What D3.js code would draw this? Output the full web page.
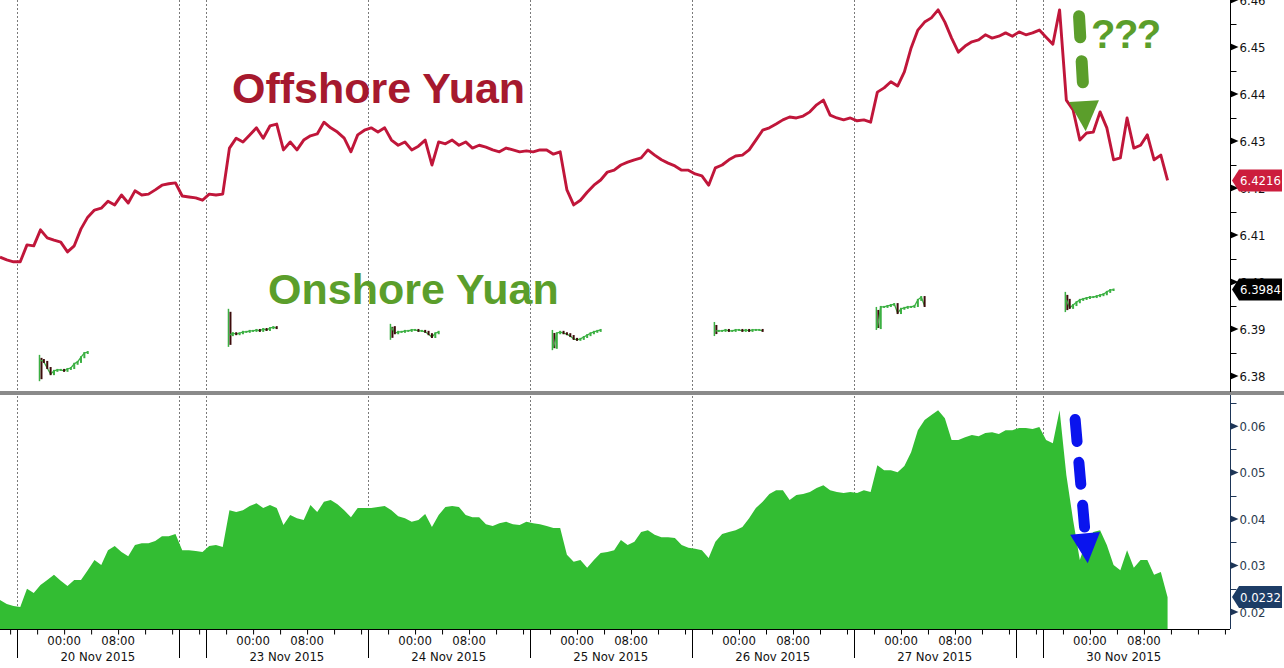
<!DOCTYPE html>
<html>
<head>
<meta charset="utf-8">
<script src="https://cdn.jsdelivr.net/npm/d3@7"></script>
<style>
  body { margin: 0; background: #fff; }
  .chart text { font-family: 'DejaVu Sans Condensed', 'DejaVu Sans', sans-serif; font-stretch: condensed; }
  .chart .big { font-family: 'Liberation Sans', Arial, sans-serif; font-weight: bold; font-stretch: normal; }
</style>
</head>
<body>
<div class="chart"></div>
<script>
// times are New York (EST); weekend hours are collapsed on the x axis
const visibleSpans = [
  ['2015-11-19T14:30', '2015-11-20T17:00'],
  ['2015-11-22T13:00', '2015-11-27T17:00'],
  ['2015-11-29T13:00', '2015-11-30T20:45']
]
// trading days start 17:00 the evening before
const dayOpens = ['2015-11-19T17:00', '2015-11-22T17:00', '2015-11-23T17:00', '2015-11-24T17:00',
  '2015-11-25T17:00', '2015-11-26T17:00', '2015-11-29T17:00']
const dayLabels = ['20 Nov 2015', '23 Nov 2015', '24 Nov 2015', '25 Nov 2015',
  '26 Nov 2015', '27 Nov 2015', '30 Nov 2015']

// hourly series, first sample of each stretch
const seriesStarts = ['2015-11-19T14:30', '2015-11-22T13:30', '2015-11-29T13:30']

// offshore yuan (CNH)
const offshoreFri = [6.4053, 6.4047, 6.4043, 6.4043, 6.4079, 6.4077, 6.4111, 6.4094, 6.4089, 6.4085,
  6.4064, 6.4077, 6.4113, 6.4138, 6.4153, 6.4157, 6.4172, 6.4164, 6.4185, 6.4168, 6.4194, 6.4185,
  6.4187, 6.4196, 6.4206, 6.4209, 6.4211]
const offshoreWeek = [6.4183, 6.4181, 6.4179, 6.4174, 6.4187, 6.4185, 6.4187, 6.4285, 6.4306, 6.4298,
  6.4313, 6.4328, 6.4306, 6.4332, 6.4336, 6.4281, 6.4298, 6.4281, 6.4302, 6.4311, 6.4315, 6.4340,
  6.4328, 6.4319, 6.4306, 6.4277, 6.4313, 6.4323, 6.4328, 6.4319, 6.4328, 6.4302, 6.4291, 6.4298,
  6.4281, 6.4289, 6.4302, 6.4249, 6.4298, 6.4294, 6.4302, 6.4291, 6.4298, 6.4285, 6.4291, 6.4287,
  6.4281, 6.4277, 6.4285, 6.4281, 6.4277, 6.4279, 6.4277, 6.4281, 6.4281, 6.4272, 6.4277, 6.4196,
  6.4164, 6.4174, 6.4191, 6.4206, 6.4217, 6.4234, 6.4238, 6.4249, 6.4255, 6.4260, 6.4264, 6.4281,
  6.4270, 6.4260, 6.4253, 6.4247, 6.4238, 6.4238, 6.4230, 6.4226, 6.4206, 6.4243, 6.4249, 6.4260,
  6.4268, 6.4270, 6.4281, 6.4302, 6.4323, 6.4328, 6.4336, 6.4345, 6.4351, 6.4349, 6.4353, 6.4362,
  6.4377, 6.4387, 6.4355, 6.4349, 6.4345, 6.4349, 6.4343, 6.4345, 6.4340, 6.4404, 6.4413, 6.4426,
  6.4417, 6.4447, 6.4498, 6.4536, 6.4553, 6.4562, 6.4579, 6.4553, 6.4519, 6.4489, 6.4502, 6.4511,
  6.4515, 6.4526, 6.4519, 6.4523, 6.4530, 6.4523]
const offshoreMon = [6.4532, 6.4526, 6.4530, 6.4536, 6.4521, 6.4506, 6.4579, 6.4387, 6.4366, 6.4302,
  6.4317, 6.4319, 6.4362, 6.4328, 6.4260, 6.4264, 6.4349, 6.4285, 6.4291, 6.4313, 6.4260, 6.4270,
  6.4216]

// offshore minus onshore spread
const spreadFri = [0.0226, 0.0217, 0.0213, 0.0211, 0.0250, 0.0241, 0.0258, 0.0269, 0.0280, 0.0267,
  0.0256, 0.0269, 0.0269, 0.0290, 0.0312, 0.0301, 0.0333, 0.0342, 0.0329, 0.0320, 0.0344, 0.0348,
  0.0348, 0.0353, 0.0363, 0.0363, 0.0368]
const spreadWeek = [0.0333, 0.0333, 0.0331, 0.0329, 0.0342, 0.0344, 0.0340, 0.0419, 0.0415, 0.0419,
  0.0428, 0.0434, 0.0424, 0.0430, 0.0424, 0.0387, 0.0409, 0.0402, 0.0398, 0.0430, 0.0415, 0.0437,
  0.0441, 0.0432, 0.0419, 0.0404, 0.0424, 0.0424, 0.0424, 0.0426, 0.0428, 0.0419, 0.0406, 0.0402,
  0.0394, 0.0398, 0.0411, 0.0383, 0.0409, 0.0426, 0.0428, 0.0426, 0.0409, 0.0404, 0.0404, 0.0389,
  0.0385, 0.0391, 0.0394, 0.0389, 0.0387, 0.0394, 0.0391, 0.0389, 0.0385, 0.0381, 0.0381, 0.0323,
  0.0308, 0.0312, 0.0295, 0.0312, 0.0327, 0.0329, 0.0333, 0.0355, 0.0344, 0.0351, 0.0372, 0.0376,
  0.0366, 0.0361, 0.0361, 0.0359, 0.0344, 0.0338, 0.0336, 0.0333, 0.0316, 0.0351, 0.0368, 0.0372,
  0.0376, 0.0383, 0.0402, 0.0424, 0.0437, 0.0454, 0.0462, 0.0462, 0.0441, 0.0452, 0.0454, 0.0458,
  0.0467, 0.0473, 0.0462, 0.0458, 0.0456, 0.0458, 0.0456, 0.0462, 0.0458, 0.0516, 0.0505, 0.0505,
  0.0501, 0.0514, 0.0544, 0.0591, 0.0613, 0.0624, 0.0634, 0.0617, 0.0570, 0.0570, 0.0576, 0.0581,
  0.0578, 0.0585, 0.0587, 0.0583, 0.0591, 0.0591]
const spreadMon = [0.0596, 0.0596, 0.0594, 0.0598, 0.0570, 0.0563, 0.0634, 0.0495, 0.0398, 0.0312,
  0.0355, 0.0372, 0.0376, 0.0344, 0.0301, 0.0290, 0.0333, 0.0295, 0.0312, 0.0312, 0.0280, 0.0286,
  0.0232]

// onshore yuan (CNY), half-hourly during the mainland session
const onshoreOpens = ['2015-11-19T20:30', '2015-11-22T20:30', '2015-11-23T20:30', '2015-11-24T20:30',
  '2015-11-25T20:30', '2015-11-26T20:30', '2015-11-29T20:30']
const onshore20 = [6.3834, 6.3830, 6.3817, 6.3804, 6.3811, 6.3813, 6.3813, 6.3811, 6.3815, 6.3817, 6.3826, 6.3830, 6.3840, 6.3849, 6.3851]
const onshore23 = [6.3887, 6.3891, 6.3889, 6.3891, 6.3894, 6.3894, 6.3896, 6.3896, 6.3898, 6.3896, 6.3900, 6.3898, 6.3902, 6.3904, 6.3902]
const onshore24 = [6.3904, 6.3891, 6.3894, 6.3894, 6.3896, 6.3896, 6.3898, 6.3898, 6.3896, 6.3896, 6.3894, 6.3889, 6.3883, 6.3891, 6.3894]
const onshore25 = [6.3860, 6.3891, 6.3894, 6.3891, 6.3889, 6.3885, 6.3879, 6.3877, 6.3879, 6.3883, 6.3887, 6.3891, 6.3894, 6.3896, 6.3898]
const onshore26 = [6.3896, 6.3896, 6.3896, 6.3898, 6.3896, 6.3896, 6.3898, 6.3898, 6.3896, 6.3898, 6.3896, 6.3898, 6.3898, 6.3898, 6.3896]
const onshore27 = [6.3902, 6.3947, 6.3947, 6.3949, 6.3951, 6.3953, 6.3934, 6.3943, 6.3945, 6.3947, 6.3947, 6.3949, 6.3962, 6.3968, 6.3949]
const onshore30 = [6.3962, 6.3945, 6.3951, 6.3957, 6.3962, 6.3964, 6.3966, 6.3968, 6.3968, 6.3970, 6.3972, 6.3974, 6.3979, 6.3983, 6.3984]
// high / low of the opening bar of each session
const onshoreOpenBar = [[6.3845, 6.3789], [6.3943, 6.3862], [6.3911, 6.3877], [6.3898, 6.3855],
  [6.3915, 6.3885], [6.3947, 6.3898], [6.3979, 6.3936]]

const topTicks = [6.38, 6.39, 6.40, 6.41, 6.42, 6.43, 6.44, 6.45, 6.46]
const bottomTicks = [0.02, 0.03, 0.04, 0.05, 0.06]

const parse = d3.timeParse('%Y-%m-%dT%H:%M')
const width = 1284
const height = 668
const plotRight = 1230
const topPanel = {y0: 0, y1: 392}
const botPanel = {y0: 395, y1: 629}

const svg = d3
  .select('.chart')
  .append('svg')
  .attr('width', width)
  .attr('height', height)

//x scale: piecewise time scale, hidden weekend stretches get zero width
const spans = visibleSpans.map(s => s.map(parse))
const spanHours = spans.map(s => (s[1] - s[0]) / 36e5)
const pxPerHour = plotRight / d3.sum(spanHours)
const xDomain = []
const xRange = []
let acc = 0
spans.forEach((s, i) => {
  xDomain.push(s[0], s[1])
  xRange.push(acc * pxPerHour, (acc + spanHours[i]) * pxPerHour)
  acc += spanHours[i]
})
const x = d3.scaleTime().domain(xDomain).range(xRange)

const yTop = d3.scaleLinear().domain([6.3766, 6.46]).range([topPanel.y1, topPanel.y0])
const yBot = d3.scaleLinear().domain([0.01634, 0.0667]).range([botPanel.y1, botPanel.y0])

const toSeries = parts =>
  parts.flatMap((arr, i) =>
    arr.map((v, j) => ({t: d3.timeHour.offset(parse(seriesStarts[i]), j), v}))
  )
const offshore = toSeries([offshoreFri, offshoreWeek, offshoreMon])
const spread = toSeries([spreadFri, spreadWeek, spreadMon])

//day separators
const opens = dayOpens.map(parse)
const sepTimes = Array.from(
  new Set(opens.flatMap((t, i) => (i < opens.length - 1 ? [+t, +d3.timeHour.offset(t, 24)] : [+t])))
).map(t => new Date(t))

svg
  .append('g')
  .selectAll('line')
  .data(sepTimes)
  .join('line')
  .attr('x1', d => Math.round(x(d)) + 0.5)
  .attr('x2', d => Math.round(x(d)) + 0.5)
  .attr('y1', 0)
  .attr('y2', botPanel.y1)
  .style('stroke', '#7a7a7a')
  .style('stroke-dasharray', '2,2')

//spread area
const area = d3
  .area()
  .x(d => x(d.t))
  .y0(botPanel.y1)
  .y1(d => yBot(d.v))
svg
  .append('path')
  .datum(spread)
  .attr('d', area)
  .style('fill', '#33bd33')

//offshore line
const line = d3
  .line()
  .x(d => x(d.t))
  .y(d => yTop(d.v))
svg
  .append('path')
  .datum(offshore)
  .attr('d', line)
  .style('fill', 'none')
  .style('stroke', '#c0163a')
  .style('stroke-width', 2.9)
  .style('stroke-linejoin', 'round')

//onshore sessions, drawn as small candles
const onshoreDays = [onshore20, onshore23, onshore24, onshore25, onshore26, onshore27, onshore30]
onshoreDays.forEach((vals, i) => {
  const t0 = parse(onshoreOpens[i])
  const pts = vals.map((v, j) => ({t: d3.timeMinute.offset(t0, 30 * j), v}))
  const g = svg.append('g')
  g.append('line')
    .attr('x1', x(t0) - 1)
    .attr('x2', x(t0) - 1)
    .attr('y1', yTop(onshoreOpenBar[i][0]))
    .attr('y2', yTop(onshoreOpenBar[i][1]))
    .style('stroke', '#3cb043')
    .style('stroke-width', 1.5)
  g.append('line')
    .attr('x1', x(t0) + 1)
    .attr('x2', x(t0) + 1)
    .attr('y1', yTop(onshoreOpenBar[i][0]) + 3)
    .attr('y2', yTop(onshoreOpenBar[i][1]) - 2)
    .style('stroke', '#3d0c0c')
    .style('stroke-width', 2)
  g.append('path')
    .datum(pts)
    .attr('d', line)
    .style('fill', 'none')
    .style('stroke', '#3cb043')
    .style('stroke-width', 1.3)
  g.selectAll('rect')
    .data(pts.slice(1).map((p, j) => ({t: p.t, v: p.v, prev: pts[j].v})))
    .join('rect')
    .attr('x', d => x(d.t) - 1)
    .attr('width', 2)
    .attr('y', d => yTop(Math.max(d.v, d.prev)) - 1)
    .attr('height', d => Math.abs(yTop(d.v) - yTop(d.prev)) + 2)
    .style('fill', d => (d.v < d.prev ? '#3d0c0c' : '#3cb043'))
})

//panel divider
svg
  .append('line')
  .attr('x1', 0)
  .attr('x2', width)
  .attr('y1', 393)
  .attr('y2', 393)
  .style('stroke', '#8a8a8a')
  .style('stroke-width', 4)

//right axes
function rightAxis(scale, ticks, panel, color, fmt) {
  const minor = ticks.map(t => t + (ticks[1] - ticks[0]) / 2)
  const g = svg.append('g').attr('transform', 'translate(' + (plotRight + 0.5) + ',0)')
  g.append('line')
    .attr('y1', panel.y0)
    .attr('y2', panel.y1)
    .style('stroke', color)
  g.selectAll('.minor')
    .data(minor.filter(v => scale(v) > panel.y0 && scale(v) < panel.y1))
    .join('line')
    .attr('class', 'minor')
    .attr('x2', 6)
    .attr('y1', d => Math.round(scale(d)) + 0.5)
    .attr('y2', d => Math.round(scale(d)) + 0.5)
    .style('stroke', color)
  g.selectAll('.major')
    .data(ticks)
    .join('path')
    .attr('class', 'major')
    .attr('d', d => 'M0,' + (scale(d) - 3.5) + 'L8,' + scale(d) + 'L0,' + (scale(d) + 3.5) + 'Z')
    .style('fill', color)
  g.selectAll('text')
    .data(ticks)
    .join('text')
    .attr('x', 9)
    .attr('y', d => scale(d))
    .attr('dy', '0.36em')
    .style('font-size', '13px')
    .style('fill', color === '#000' ? '#111' : '#2b3a4c')
    .text(fmt)
}
rightAxis(yTop, topTicks, topPanel, '#000', d3.format('.2f'))
rightAxis(yBot, bottomTicks, botPanel, '#1d3557', d3.format('.2f'))

//bottom axis
const tickTimes = spans.flatMap(s => d3.timeHour.every(4).range(s[0], s[1]))
svg
  .append('g')
  .attr('transform', 'translate(0,' + (botPanel.y1 + 0.5) + ')')
  .call(
    d3
      .axisBottom(x)
      .tickValues(tickTimes)
      .tickSize(5)
      .tickFormat('')
  )
  .call(g => g.select('.domain').attr('d', 'M0,0H' + plotRight).style('stroke', '#000'))
  .call(g => g.selectAll('.tick line').style('stroke', '#000'))

svg
  .append('g')
  .selectAll('line')
  .data(sepTimes)
  .join('line')
  .attr('x1', d => Math.round(x(d)) + 0.5)
  .attr('x2', d => Math.round(x(d)) + 0.5)
  .attr('y1', botPanel.y1)
  .attr('y2', 658)
  .style('stroke', '#000')

const hourLabels = opens.flatMap(t => [
  {t: d3.timeHour.offset(t, 7), s: '00:00'},
  {t: d3.timeHour.offset(t, 15), s: '08:00'}
])
svg
  .append('g')
  .selectAll('text')
  .data(hourLabels)
  .join('text')
  .attr('x', d => x(d.t))
  .attr('y', 645)
  .attr('text-anchor', 'middle')
  .style('font-size', '13px')
  .style('fill', '#111')
  .text(d => d.s)
svg
  .append('g')
  .selectAll('text')
  .data(opens)
  .join('text')
  .attr('x', d => x(d3.timeHour.offset(d, 12)))
  .attr('y', 661)
  .attr('text-anchor', 'middle')
  .style('font-size', '13px')
  .style('fill', '#111')
  .text((d, i) => dayLabels[i])

//series titles
svg
  .append('text')
  .attr('class', 'big')
  .attr('x', 232)
  .attr('y', 103)
  .style('font-size', '43px')
  .style('fill', '#a6192e')
  .text('Offshore Yuan')
svg
  .append('text')
  .attr('class', 'big')
  .attr('x', 268)
  .attr('y', 304)
  .style('font-size', '43px')
  .style('fill', '#5b9e2b')
  .text('Onshore Yuan')
svg
  .append('text')
  .attr('class', 'big')
  .attr('x', 1091)
  .attr('y', 48)
  .style('font-size', '40px')
  .style('letter-spacing', '-1.5px')
  .style('fill', '#5b9e2b')
  .text('???')

//dashed arrows, anchored in data space
const arrows = [
  {y: yTop, from: ['2015-11-29T22:20', 6.4578], to: ['2015-11-29T23:22', 6.4321], color: '#5b9e2b', w: 12, dash: '21,24', head: 30},
  {y: yBot, from: ['2015-11-29T21:44', 0.0626], to: ['2015-11-29T23:40', 0.0305], color: '#0a14ee', w: 11, dash: '22,21', head: 30}
]
arrows.forEach(a => {
  const x0 = x(parse(a.from[0]))
  const y0 = a.y(a.from[1])
  const x1 = x(parse(a.to[0]))
  const y1 = a.y(a.to[1])
  const len = Math.hypot(x1 - x0, y1 - y0)
  const ux = (x1 - x0) / len
  const uy = (y1 - y0) / len
  const bx = x1 - ux * a.head
  const by = y1 - uy * a.head
  svg
    .append('line')
    .attr('x1', x0 + ux * a.w / 2)
    .attr('y1', y0 + uy * a.w / 2)
    .attr('x2', bx - ux * 6)
    .attr('y2', by - uy * 6)
    .style('stroke', a.color)
    .style('stroke-width', a.w)
    .style('stroke-linecap', 'round')
    .style('stroke-dasharray', a.dash)
  svg
    .append('path')
    .attr('d', 'M' + (bx - uy * 15) + ',' + (by + ux * 15) + 'L' + (bx + uy * 15) + ',' + (by - ux * 15) + 'L' + x1 + ',' + y1 + 'Z')
    .style('fill', a.color)
})

//last value tags
const lastTags = [
  {y: yTop(offshoreMon[offshoreMon.length - 1]), v: offshoreMon[offshoreMon.length - 1], fill: '#cc1d3d'},
  {y: yTop(onshore30[onshore30.length - 1]), v: onshore30[onshore30.length - 1], fill: '#000'},
  {y: yBot(spreadMon[spreadMon.length - 1]), v: spreadMon[spreadMon.length - 1], fill: '#1d3d66'}
]
const tags = svg
  .append('g')
  .selectAll('g')
  .data(lastTags)
  .join('g')
  .attr('transform', d => 'translate(' + (plotRight + 2) + ',' + d.y + ')')
tags
  .append('path')
  .attr('d', 'M0,0L7,-11H50V11H7Z')
  .style('fill', d => d.fill)
tags
  .append('text')
  .attr('x', 8)
  .attr('dy', '0.36em')
  .style('font-size', '13px')
  .style('fill', '#fff')
  .text(d => d3.format('.4f')(d.v))
</script>
</body>
</html>
